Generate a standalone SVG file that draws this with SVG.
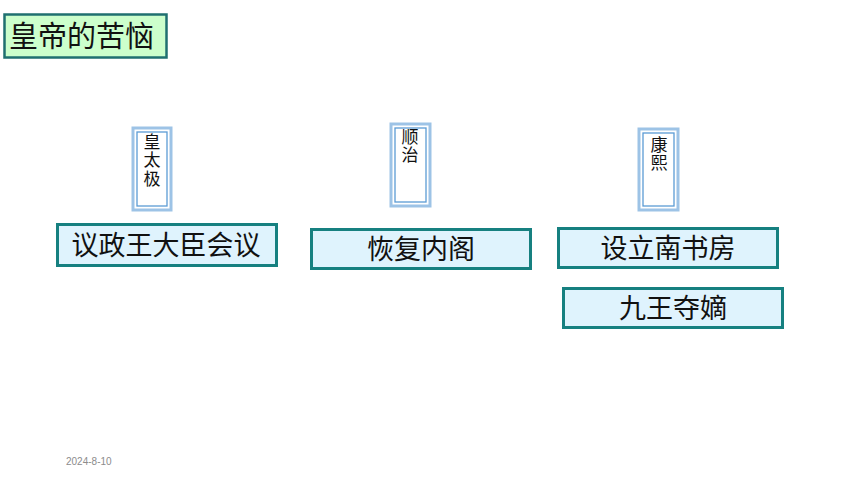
<svg xmlns="http://www.w3.org/2000/svg" width="860" height="484" viewBox="0 0 860 484">
<style>
.t{font-family:"Noto Sans CJK SC","Liberation Sans",sans-serif;fill:#111}
.box{fill:#dff3fd;stroke:#168080;stroke-width:3}
.so{fill:#fff;stroke:#9dc3e6;stroke-width:3}
.si{fill:#fff;stroke:#5b9bd5;stroke-width:1.3}
.v{font-size:17px;writing-mode:vertical-rl;letter-spacing:1.5px}
.h{font-size:27px;text-anchor:middle}
</style>
<rect width="860" height="484" fill="#fff"/>
<g id="title">
<rect x="4.5" y="14.5" width="162" height="43" fill="#ccffcc" stroke="#1f7070" stroke-width="2.5"/>
<text class="t" x="9" y="47" font-size="29">皇帝的苦恼</text>
</g>
<g id="huangtaiji">
<rect class="so" x="133" y="128" width="38" height="82"/>
<rect class="si" x="137" y="132" width="30" height="74"/>
<text class="t v" x="152" y="133">皇太极</text>
</g>
<g id="shunzhi">
<rect class="so" x="391" y="124" width="39" height="82"/>
<rect class="si" x="395" y="128" width="31" height="74"/>
<text class="t v" x="410" y="128">顺治</text>
</g>
<g id="kangxi">
<rect class="so" x="639" y="129" width="39" height="81"/>
<rect class="si" x="643" y="133" width="31" height="73"/>
<text class="t v" x="659" y="136">康熙</text>
</g>
<g id="yizheng">
<rect class="box" x="57.5" y="224.5" width="219" height="41"/>
<text class="t h" x="166" y="255">议政王大臣会议</text>
</g>
<g id="huifu">
<rect class="box" x="311.5" y="229.5" width="219" height="39"/>
<text class="t h" x="421" y="259">恢复内阁</text>
</g>
<g id="sheli">
<rect class="box" x="558.5" y="228.5" width="219" height="39"/>
<text class="t h" x="668" y="258">设立南书房</text>
</g>
<g id="jiuwang">
<rect class="box" x="563.5" y="288.5" width="219" height="39"/>
<text class="t h" x="673" y="318">九王夺嫡</text>
</g>
<g id="connectors"></g>
<text x="66" y="465" font-family="Liberation Sans, sans-serif" font-size="10" fill="#8c8c8c">2024-8-10</text>
</svg>
